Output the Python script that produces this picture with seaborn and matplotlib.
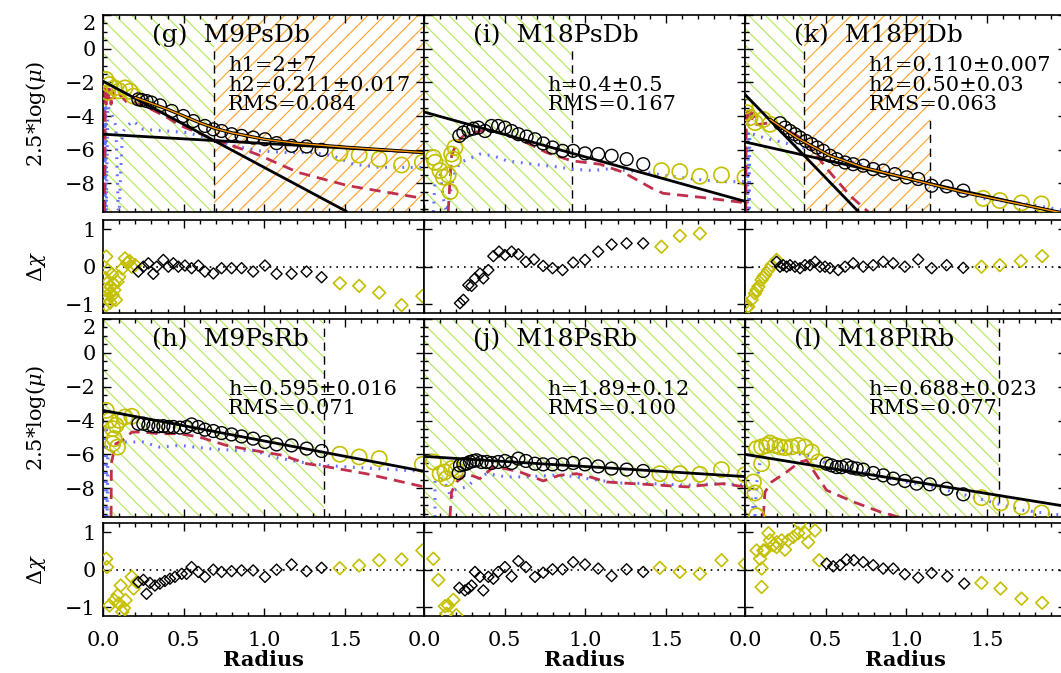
import numpy as np
import pandas as pd
import seaborn as sns
from matplotlib import pyplot as plt
from matplotlib.ticker import MultipleLocator

# ---------------- panel (g) M9PsDb ----------------
g_circ_x = [0.219, 0.24, 0.27, 0.3, 0.353, 0.426, 0.498, 0.56, 0.632, 0.684, 0.735, 0.797,
            0.859, 0.931, 1.004, 1.076, 1.169, 1.262, 1.355]
g_circ_y = [-3.01, -3.05, -3.11, -3.2, -3.37, -3.7, -4.0, -4.3, -4.59, -4.79, -4.89, -5.08,
            -5.18, -5.28, -5.38, -5.61, -5.77, -5.81, -6.01]
g_ycirc_x = [0.018, 0.03, 0.04, 0.07, 0.1, 0.136, 0.167, 0.188, 1.468, 1.588, 1.712, 1.851, 1.98]
g_ycirc_y = [-1.83, -2.6, -2.13, -2.33, -2.5, -2.33, -2.53, -2.82, -6.2, -6.32, -6.56, -6.91, -6.75]
g_fit1_x, g_fit1_y = [0.0, 1.51], [-1.93, -9.67]
g_fit2_x, g_fit2_y = [0.0, 1.99], [-5.08, -6.17]
g_sum_x = [0.2, 0.3, 0.4, 0.5, 0.6, 0.7, 0.8, 1.0, 1.2, 1.5, 1.99]
g_sum_y = [-2.9, -3.25, -3.6, -4.0, -4.4, -4.75, -5.0, -5.38, -5.62, -5.85, -6.17]
g_red_x = [0.01, 0.012, 0.015, 0.02, 0.025, 0.03, 0.04, 0.05, 0.06, 0.07, 0.1, 0.15, 0.2,
           0.3, 0.4, 0.477, 0.684, 0.952, 1.21, 1.52, 1.99]
g_red_y = [-9.7, -5.0, -2.2, -3.3, -2.3, -3.2, -2.4, -3.3, -2.5, -3.0, -2.7, -3.2, -3.2,
           -3.6, -4.1, -4.55, -5.38, -6.26, -7.35, -8.14, -8.9]
g_blue_x = [0.008, 0.01, 0.013, 0.016, 0.02, 0.03, 0.055, 0.08, 0.095, 0.1, 0.12, 0.145,
            0.188, 0.25, 0.394, 0.518, 0.684, 0.808, 0.973, 1.14, 1.3, 1.427, 1.55, 1.716, 1.99]
g_blue_y = [-9.7, -3.6, -9.7, -3.5, -9.7, -3.4, -3.9, -4.6, -9.7, -9.7, -5.0, -4.6,
            -4.3, -4.79, -4.89, -4.98, -5.38, -5.77, -6.07, -6.17, -6.17, -6.36, -6.86, -7.05, -7.05]
g_res_x = [0.219, 0.25, 0.281, 0.312, 0.333, 0.374, 0.405, 0.436, 0.467, 0.508, 0.549, 0.591,
           0.632, 0.684, 0.735, 0.797, 0.859, 0.931, 1.004, 1.076, 1.169, 1.262, 1.355]
g_res_y = [-0.13, 0.0, 0.09, -0.19, 0.0, 0.18, 0.0, 0.09, 0.0, 0.03, -0.04, 0.03,
           -0.13, -0.18, -0.04, -0.04, -0.04, -0.13, 0.03, -0.19, -0.19, -0.13, -0.28]
g_yres_x = [0.02, 0.03, 0.025, 0.04, 0.02, 0.07, 0.1, 0.08, 0.136, 0.178, 0.2, 0.05, 0.09,
            0.015, 0.035, 0.055, 0.06, 0.045, 0.03, 0.065, 0.15, 0.165, 0.12,
            1.468, 1.588, 1.712, 1.851, 1.98]
g_yres_y = [0.27, -0.09, -0.44, -0.71, -1.02, -0.62, -0.27, -0.88, 0.22, 0.0, 0.04, -0.53, -0.4,
            -0.3, -0.6, -0.2, -0.75, -0.95, -0.85, -0.45, 0.1, 0.15, -0.05,
            -0.44, -0.51, -0.69, -1.02, -0.78]

# ---------------- panel (i) M18PsDb ----------------
i_circ_x = [0.219, 0.244, 0.275, 0.306, 0.337, 0.378, 0.419, 0.46, 0.502, 0.543, 0.585, 0.636,
            0.688, 0.739, 0.797, 0.859, 0.925, 0.998, 1.08, 1.163, 1.256, 1.359]
i_circ_y = [-5.18, -4.98, -4.83, -4.75, -4.69, -4.89, -4.59, -4.59, -4.69, -4.89, -5.08, -5.22,
            -5.38, -5.63, -5.87, -6.07, -6.07, -6.22, -6.26, -6.36, -6.56, -6.86]
i_ycirc_x = [0.058, 0.068, 0.099, 0.12, 0.15, 0.161, 0.171, 0.182, 0.192, 1.472, 1.586, 1.71, 1.844, 1.99]
i_ycirc_y = [-6.46, -6.75, -7.24, -7.63, -7.5, -8.49, -6.26, -6.56, -5.87, -7.24, -7.3, -7.58, -7.5, -7.64]
i_fit_x, i_fit_y = [0.0, 1.99], [-3.76, -9.07]
i_red_x = [0.15, 0.16, 0.171, 0.202, 0.244, 0.347, 0.43, 0.594, 0.76, 0.915, 1.09, 1.235,
           1.42, 1.483, 1.71, 1.99]
i_red_y = [-9.7, -8.0, -6.36, -5.58, -5.18, -4.89, -4.89, -5.38, -6.17, -6.66, -6.86, -7.34,
           -8.33, -8.59, -8.82, -9.15]
i_blue_x = [0.058, 0.068, 0.099, 0.12, 0.14, 0.171, 0.192, 0.223, 0.275, 0.347, 0.43, 0.512,
            0.594, 0.719, 0.801, 0.915, 1.049, 1.132, 1.256, 1.38, 1.503, 1.669, 1.834, 1.99]
i_blue_y = [-9.7, -7.74, -7.35, -8.92, -9.7, -8.14, -7.35, -6.76, -6.56, -6.26, -6.36, -6.66,
            -6.76, -6.91, -6.99, -7.15, -7.24, -7.15, -7.24, -7.35, -7.55, -7.74, -7.9, -7.9]
i_res_x = [0.223, 0.244, 0.275, 0.295, 0.316, 0.347, 0.368, 0.399, 0.43, 0.465, 0.502, 0.543,
           0.585, 0.632, 0.682, 0.739, 0.797, 0.859, 0.925, 0.998, 1.08, 1.163, 1.256, 1.359]
i_res_y = [-0.97, -0.88, -0.49, -0.51, -0.31, -0.18, -0.31, -0.09, 0.28, 0.4, 0.31, 0.4,
           0.33, 0.13, 0.19, 0.02, -0.04, -0.09, 0.11, 0.18, 0.4, 0.59, 0.62, 0.62]
i_yres_x = [1.472, 1.586, 1.71]
i_yres_y = [0.53, 0.82, 0.88]

# ---------------- panel (k) M18PlDb ----------------
k_circ_x = [0.217, 0.248, 0.279, 0.31, 0.341, 0.378, 0.413, 0.448, 0.485, 0.527, 0.568, 0.62,
            0.671, 0.733, 0.795, 0.857, 0.929, 1.002, 1.074, 1.157, 1.25, 1.353]
k_circ_y = [-4.43, -4.69, -4.89, -5.08, -5.28, -5.48, -5.67, -5.87, -6.07, -6.36, -6.56, -6.76,
            -6.86, -6.95, -7.15, -7.24, -7.45, -7.64, -7.74, -8.14, -8.18, -8.43]
k_ycirc_x = [0.0, 0.01, 0.031, 0.062, 0.114, 0.155, 1.476, 1.58, 1.714, 1.838]
k_ycirc_y = [-3.41, -3.8, -4.1, -4.39, -4.2, -4.49, -8.89, -9.02, -9.16, -9.22]
k_fit1_x, k_fit1_y = [0.0, 0.702], [-2.72, -9.67]
k_fit2_x, k_fit2_y = [0.0, 1.99], [-5.54, -9.82]
k_sum_x = [0.155, 0.32, 0.527, 0.733, 1.064, 1.353, 1.99]
k_sum_y = [-4.2, -5.28, -6.36, -7.05, -7.84, -8.53, -9.8]
k_red_x = [0.005, 0.008, 0.01, 0.02, 0.031, 0.045, 0.052, 0.07, 0.093, 0.155, 0.217, 0.361,
           0.527, 0.651, 0.765]
k_red_y = [-9.7, -4.0, -3.5, -4.3, -3.7, -4.4, -3.8, -4.5, -4.49, -4.39, -4.59, -5.38,
           -7.35, -8.73, -9.7]
k_blue_x = [0.015, 0.02, 0.025, 0.03, 0.06, 0.093, 0.155, 0.32, 0.527, 0.8, 1.146, 1.476, 1.745, 1.99]
k_blue_y = [-9.7, -4.98, -9.7, -5.1, -5.1, -5.22, -5.38, -5.77, -6.36, -7.1, -8.14, -8.89, -9.22, -9.62]
k_res_x = [0.196, 0.217, 0.237, 0.258, 0.279, 0.31, 0.341, 0.372, 0.403, 0.434, 0.465, 0.496,
           0.527, 0.578, 0.62, 0.671, 0.733, 0.795, 0.857, 0.919, 0.991, 1.074, 1.157, 1.25, 1.353]
k_res_y = [0.13, 0.0, 0.04, 0.0, 0.04, 0.0, -0.04, 0.04, 0.04, 0.13, 0.0, 0.0,
           -0.04, -0.09, 0.0, 0.09, 0.0, 0.04, 0.13, 0.09, 0.0, 0.19, -0.04, 0.04, -0.03]
k_yres_x = [0.0, 0.01, 0.02, 0.041, 0.062, 0.072, 0.083, 0.103, 0.114, 0.124, 0.145, 0.165, 0.196,
            1.466, 1.58, 1.71, 1.842]
k_yres_y = [-0.97, -1.1, -1.06, -0.88, -0.71, -0.62, -0.53, -0.35, -0.27, -0.22, -0.09, 0.04, 0.18,
            0.0, 0.04, 0.15, 0.28]

# ---------------- panel (h) M9PsRb ----------------
h_circ_x = [0.219, 0.25, 0.281, 0.312, 0.343, 0.374, 0.405, 0.436, 0.477, 0.518, 0.549, 0.591,
            0.632, 0.684, 0.735, 0.797, 0.859, 0.931, 1.004, 1.076, 1.169, 1.262, 1.355]
h_circ_y = [-4.19, -4.19, -4.28, -4.33, -4.34, -4.33, -4.38, -4.38, -4.42, -4.38, -4.23, -4.38,
            -4.54, -4.62, -4.74, -4.82, -4.94, -5.07, -5.27, -5.41, -5.47, -5.66, -5.8]
h_ycirc_x = [0.02, 0.04, 0.06, 0.06, 0.07, 0.08, 0.09, 0.1, 0.136, 0.178, 1.468, 1.588, 1.712, 1.98]
h_ycirc_y = [-3.4, -3.99, -4.48, -5.37, -5.07, -4.28, -5.57, -3.99, -3.79, -3.75, -5.99, -6.15, -6.25, -6.59]
h_fit_x, h_fit_y = [0.0, 1.99], [-3.4, -7.0]
h_red_x = [0.05, 0.052, 0.06, 0.08, 0.12, 0.18, 0.25, 0.35, 0.477, 0.6, 0.765, 0.931, 1.117,
           1.262, 1.375, 1.63, 1.99]
h_red_y = [-9.7, -6.5, -6.16, -5.37, -5.17, -4.68, -4.68, -4.78, -4.78, -4.98, -5.47, -5.76, -6.06,
           -6.55, -6.71, -7.14, -7.92]
h_blue_x = [0.013, 0.018, 0.025, 0.03, 0.05, 0.1, 0.14, 0.25, 0.35, 0.477, 0.652, 0.818, 0.931,
            1.055, 1.221, 1.375, 1.53, 1.99]
h_blue_y = [-9.7, -4.33, -9.7, -6.16, -5.86, -5.37, -5.27, -5.27, -5.57, -5.47, -5.66, -5.76, -5.76,
            -6.16, -6.45, -6.65, -6.75, -7.0]
h_res_x = [0.219, 0.25, 0.27, 0.291, 0.322, 0.353, 0.384, 0.415, 0.446, 0.488, 0.518, 0.549,
           0.591, 0.632, 0.684, 0.735, 0.797, 0.859, 0.931, 1.004, 1.076, 1.169, 1.262, 1.355]
h_res_y = [-0.33, -0.27, -0.64, -0.35, -0.42, -0.37, -0.3, -0.24, -0.19, -0.11, -0.11, 0.07,
           -0.06, -0.19, 0.0, -0.06, -0.04, -0.02, -0.02, -0.19, 0.0, 0.14, -0.04, 0.05]
h_yres_x = [0.02, 0.025, 0.04, 0.07, 0.09, 0.1, 0.11, 0.12, 0.13, 0.14, 0.178, 0.19, 0.21,
            1.468, 1.588, 1.712, 1.851, 1.98]
h_yres_y = [0.29, 0.07, -0.95, -0.81, -0.68, -0.9, -0.42, -1.12, -1.02, -0.81, -0.19, -0.5, -0.33,
            0.04, 0.11, 0.25, 0.27, 0.51]

# ---------------- panel (j) M18PsRb ----------------
j_circ_x = [0.215, 0.223, 0.244, 0.264, 0.285, 0.306, 0.326, 0.357, 0.388, 0.419, 0.46, 0.502,
            0.543, 0.585, 0.632, 0.688, 0.739, 0.797, 0.859, 0.925, 0.998, 1.08, 1.163, 1.256, 1.359]
j_circ_y = [-7.1, -6.65, -6.59, -6.55, -6.45, -6.39, -6.35, -6.45, -6.45, -6.51, -6.45, -6.39,
            -6.51, -6.25, -6.39, -6.55, -6.59, -6.59, -6.59, -6.51, -6.59, -6.71, -6.84, -6.9, -6.98]
j_ycirc_x = [0.058, 0.1, 0.13, 0.14, 0.171, 0.2, 1.462, 1.586, 1.71, 1.844, 1.99]
j_ycirc_y = [-6.45, -7.14, -7.04, -7.43, -6.84, -6.9, -7.14, -7.14, -7.18, -6.9, -7.2]
j_fit_x, j_fit_y = [0.0, 1.99], [-6.12, -7.31]
j_red_x = [0.161, 0.171, 0.202, 0.264, 0.347, 0.43, 0.502, 0.594, 0.677, 0.739, 0.842, 0.946,
           1.028, 1.132, 1.297, 1.462, 1.627, 1.73, 1.855, 1.99]
j_red_y = [-9.7, -8.22, -7.63, -7.14, -7.43, -6.75, -6.84, -7.04, -7.33, -7.57, -7.23, -7.14,
           -7.33, -7.63, -7.73, -7.82, -7.92, -7.82, -7.73, -7.92]
j_blue_x = [0.068, 0.068, 0.12, 0.171, 0.182, 0.264, 0.326, 0.388, 0.512, 0.636, 0.801, 0.925,
            1.049, 1.214, 1.42, 1.627, 1.834, 1.99]
j_blue_y = [-9.7, -7.53, -7.43, -8.62, -8.12, -7.92, -7.43, -7.14, -7.33, -7.33, -7.23, -7.3,
            -7.49, -7.69, -7.73, -7.82, -7.73, -7.82]
j_res_x = [0.219, 0.254, 0.275, 0.295, 0.316, 0.347, 0.368, 0.399, 0.43, 0.46, 0.502, 0.543,
           0.585, 0.632, 0.688, 0.739, 0.797, 0.859, 0.925, 0.998, 1.08, 1.163, 1.256, 1.359]
j_res_y = [-0.48, -0.55, -0.5, -0.42, -0.06, -0.19, -0.55, -0.19, -0.24, -0.06, 0.07, -0.18,
           0.23, 0.07, -0.19, -0.08, 0.01, 0.01, 0.2, 0.14, 0.03, -0.17, 0.01, -0.06]
j_yres_x = [0.058, 0.089, 0.13, 0.15, 0.182, 0.14, 0.2, 1.462, 1.586, 1.71, 1.844, 1.99]
j_yres_y = [0.29, -0.27, -0.97, -0.95, -0.8, -1.17, -1.21, 0.05, -0.06, -0.11, 0.25, 0.16]

# ---------------- panel (l) M18PlRb ----------------
l_circ_x = [0.506, 0.537, 0.568, 0.599, 0.63, 0.661, 0.692, 0.733, 0.795, 0.857, 0.919, 0.991,
            1.064, 1.146, 1.25, 1.353]
l_circ_y = [-6.55, -6.65, -6.75, -6.75, -6.65, -6.78, -6.84, -6.9, -7.1, -7.24, -7.43, -7.57,
            -7.73, -7.77, -8.03, -8.36]
l_ycirc_x = [0.052, 0.062, 0.072, 0.072, 0.103, 0.103, 0.134, 0.155, 0.186, 0.217, 0.248, 0.289,
             0.33, 0.372, 0.413, 0.454, 1.466, 1.584, 1.714, 1.838]
l_ycirc_y = [-7.63, -8.28, -9.63, -5.66, -5.56, -6.55, -5.47, -5.33, -5.47, -5.56, -5.6, -5.56,
             -5.47, -5.56, -5.86, -6.45, -8.56, -8.87, -9.1, -9.46]
l_fit_x, l_fit_y = [0.0, 1.99], [-6.0, -9.07]
l_red_x = [0.113, 0.124, 0.165, 0.258, 0.34, 0.382, 0.444, 0.506, 0.671, 0.836, 0.98]
l_red_y = [-9.7, -8.22, -7.63, -7.04, -6.45, -6.35, -7.24, -8.12, -8.8, -9.39, -9.78]
l_blue_x = [0.0, 0.031, 0.052, 0.062, 0.072, 0.093, 0.114, 0.155, 0.237, 0.32, 0.403, 0.485,
            0.61, 0.774, 0.94, 1.105, 1.25, 1.394, 1.559, 1.714, 1.99]
l_blue_y = [-7.63, -8.22, -9.33, -9.6, -7.73, -6.45, -5.96, -5.56, -5.76, -5.96, -6.06, -6.45,
            -6.75, -7.14, -7.53, -7.82, -8.12, -8.47, -8.9, -9.29, -9.62]
l_res_x = [0.506, 0.547, 0.589, 0.63, 0.675, 0.733, 0.795, 0.857, 0.919, 0.991, 1.074, 1.157,
           1.254, 1.359]
l_res_y = [0.16, 0.09, 0.12, 0.27, 0.25, 0.2, 0.12, 0.03, 0.03, -0.12, -0.21, -0.09, -0.18, -0.37]
l_yres_x = [0.072, 0.093, 0.103, 0.124, 0.145, 0.155, 0.176, 0.196, 0.227, 0.248, 0.268, 0.299,
            0.33, 0.34, 0.372, 0.392, 0.434, 0.46, 0.103, 0.114, 0.196, 1.466, 1.584, 1.714, 1.842]
l_yres_y = [0.51, 0.29, 0.03, 0.51, 0.97, 0.78, 0.65, 0.73, 0.78, 0.53, 0.78, 0.87,
            0.97, 1.22, 0.97, 0.73, 1.04, 0.25, -0.46, 0.51, 0.6, -0.35, -0.5, -0.77, -0.88]

# shaded fit regions and boundaries (x limits), dashed boundary tops (data y)
g_green, g_orange, g_dash = (0.0, 0.688), (0.688, 1.99), [(0.688, 0.1)]
i_green, i_dash = (0.0, 0.915), [(0.915, -0.05)]
k_green, k_orange, k_dash = (0.0, 0.366), (0.366, 1.146), [(0.366, 0.0), (1.146, -4.0)]
h_green, h_dash = (0.0, 1.37), [(1.37, 2.0)]
j_green = (0.0, 1.99)
l_green, l_dash = (0.0, 1.574), [(1.574, 2.0)]

g_text = ["h1=2\u00b17", "h2=0.211\u00b10.017", "RMS=0.084"]
i_text = ["h=0.4\u00b10.5", "RMS=0.167"]
k_text = ["h1=0.110\u00b10.007", "h2=0.50\u00b10.03", "RMS=0.063"]
h_text = ["h=0.595\u00b10.016", "RMS=0.071"]
j_text = ["h=1.89\u00b10.12", "RMS=0.100"]
l_text = ["h=0.688\u00b10.023", "RMS=0.077"]

YELLOW = "#c4c000"
RED = "#c0304c"
BLUE = "#6470ff"
GREEN_H = "#b2e65a"
ORANGE_H = "#ffa024"
ORANGE_L = "#ff9a00"
INK = "black"

sns.set_style("ticks")
plt.rcParams["font.family"] = ["DejaVu Serif"]
plt.rcParams["mathtext.fontset"] = "dejavuserif"
plt.rcParams["hatch.linewidth"] = 0.8
plt.rcParams["axes.linewidth"] = 1.2

W, H = 1061, 673
COL_LEFT = [103, 424, 745]
COL_W = 321
ROWS = [((15, 212), (220, 313)), ((319, 517), (523, 616))]


def rect(left, top, bottom):
    return [left / W, 1 - bottom / H, COL_W / W, (bottom - top) / H]


def draw_points(ax, x, y, color, marker, size, lw=1.0):
    sns.scatterplot(x=x, y=y, ax=ax, marker=marker, s=size, facecolor="none",
                    edgecolor=color, linewidth=lw, zorder=4)


def draw_line(ax, x, y, color, lw, ls="-", z=3):
    sns.lineplot(x=x, y=y, ax=ax, sort=False, estimator=None, color=color,
                 linewidth=lw, linestyle=ls, zorder=z)


panels = [
    dict(row=0, col=0, title="(g)  M9PsDb", circ=(g_circ_x, g_circ_y), ycirc=(g_ycirc_x, g_ycirc_y),
         fits=[(g_fit1_x, g_fit1_y), (g_fit2_x, g_fit2_y)], total=(g_sum_x, g_sum_y),
         red=(g_red_x, g_red_y), blue=(g_blue_x, g_blue_y), res=(g_res_x, g_res_y),
         yres=(g_yres_x, g_yres_y), green=g_green, orange=g_orange, dash=g_dash, text=g_text),
    dict(row=0, col=1, title="(i)  M18PsDb", circ=(i_circ_x, i_circ_y), ycirc=(i_ycirc_x, i_ycirc_y),
         fits=[(i_fit_x, i_fit_y)], total=None,
         red=(i_red_x, i_red_y), blue=(i_blue_x, i_blue_y), res=(i_res_x, i_res_y),
         yres=(i_yres_x, i_yres_y), green=i_green, orange=None, dash=i_dash, text=i_text),
    dict(row=0, col=2, title="(k)  M18PlDb", circ=(k_circ_x, k_circ_y), ycirc=(k_ycirc_x, k_ycirc_y),
         fits=[(k_fit1_x, k_fit1_y), (k_fit2_x, k_fit2_y)], total=(k_sum_x, k_sum_y),
         red=(k_red_x, k_red_y), blue=(k_blue_x, k_blue_y), res=(k_res_x, k_res_y),
         yres=(k_yres_x, k_yres_y), green=k_green, orange=k_orange, dash=k_dash, text=k_text),
    dict(row=1, col=0, title="(h)  M9PsRb", circ=(h_circ_x, h_circ_y), ycirc=(h_ycirc_x, h_ycirc_y),
         fits=[(h_fit_x, h_fit_y)], total=None,
         red=(h_red_x, h_red_y), blue=(h_blue_x, h_blue_y), res=(h_res_x, h_res_y),
         yres=(h_yres_x, h_yres_y), green=h_green, orange=None, dash=h_dash, text=h_text),
    dict(row=1, col=1, title="(j)  M18PsRb", circ=(j_circ_x, j_circ_y), ycirc=(j_ycirc_x, j_ycirc_y),
         fits=[(j_fit_x, j_fit_y)], total=None,
         red=(j_red_x, j_red_y), blue=(j_blue_x, j_blue_y), res=(j_res_x, j_res_y),
         yres=(j_yres_x, j_yres_y), green=j_green, orange=None, dash=[], text=j_text),
    dict(row=1, col=2, title="(l)  M18PlRb", circ=(l_circ_x, l_circ_y), ycirc=(l_ycirc_x, l_ycirc_y),
         fits=[(l_fit_x, l_fit_y)], total=None,
         red=(l_red_x, l_red_y), blue=(l_blue_x, l_blue_y), res=(l_res_x, l_res_y),
         yres=(l_yres_x, l_yres_y), green=l_green, orange=None, dash=l_dash, text=l_text),
]

fig = plt.figure(figsize=(W / 100, H / 100), dpi=100, facecolor="white")

TXT_ROWS = [0.746, 0.643, 0.546]

for p in panels:
    (mt, mb), (rt, rb) = ROWS[p["row"]]
    left = COL_LEFT[p["col"]]
    ax = fig.add_axes(rect(left, mt, mb))
    rax = fig.add_axes(rect(left, rt, rb))

    # hatched fitting regions
    ax.axvspan(*p["green"], facecolor="none", edgecolor=GREEN_H, hatch="\\\\", linewidth=0, zorder=0)
    if p["orange"] is not None:
        ax.axvspan(*p["orange"], facecolor="none", edgecolor=ORANGE_H, hatch="//", linewidth=0, zorder=0)
    for xd, ytop in p["dash"]:
        ax.plot([xd, xd], [-9.7, ytop], color=INK, lw=1.0, ls=(0, (6, 4)), zorder=2)

    draw_line(ax, *p["blue"], BLUE, 2.2, (0, (0.6, 2.2)), z=2)
    draw_line(ax, *p["red"], RED, 2.0, (0, (4, 2.5)), z=2)
    draw_points(ax, *p["ycirc"], YELLOW, "o", 120, 1.2)
    draw_points(ax, *p["circ"], INK, "o", 85, 1.0)
    for fx, fy in p["fits"]:
        draw_line(ax, fx, fy, INK, 2.0, z=5)
    if p["total"] is not None:
        draw_line(ax, *p["total"], INK, 2.4, z=5)
        draw_line(ax, *p["total"], ORANGE_L, 1.0, z=6)

    ax.text(0.152, 0.897, p["title"], transform=ax.transAxes, fontsize=18, va="center",
            color=INK, zorder=7)
    rows = TXT_ROWS if len(p["text"]) == 3 else TXT_ROWS[1:]
    tx = 0.39 if p["col"] == 0 else 0.385
    for line, ty in zip(p["text"], rows):
        ax.text(tx, ty, line, transform=ax.transAxes, fontsize=15, va="center", color=INK, zorder=7)

    # residual panel
    rax.axhline(0, color=INK, lw=1.2, ls=(0, (1, 3)), zorder=1)
    draw_points(rax, *p["yres"], YELLOW, "D", 42, 1.2)
    draw_points(rax, *p["res"], INK, "D", 32, 1.0)

    ax.set_xlim(0, 1.99)
    ax.set_ylim(-9.7, 2.0)
    rax.set_xlim(0, 1.99)
    rax.set_ylim(-1.23, 1.24)
    ax.yaxis.set_major_locator(MultipleLocator(2))
    ax.yaxis.set_minor_locator(MultipleLocator(0.5))
    rax.yaxis.set_major_locator(MultipleLocator(1))
    for a in (ax, rax):
        a.xaxis.set_major_locator(MultipleLocator(0.5))
        a.xaxis.set_minor_locator(MultipleLocator(0.1))
        a.tick_params(which="both", direction="in", top=True, right=True, width=1.0,
                      labelsize=15, colors=INK, labelcolor=INK)
        a.tick_params(which="major", length=6)
        a.tick_params(which="minor", length=3)
        a.tick_params(axis="x", pad=11)
        a.tick_params(axis="y", pad=5)
        a.set_xlabel("")
        a.set_ylabel("")
        a.set_facecolor("white")
        for s in a.spines.values():
            s.set_color(INK)
    ax.tick_params(labelbottom=False)
    if p["row"] == 0:
        rax.tick_params(labelbottom=False)
    if p["col"] != 0:
        ax.tick_params(labelleft=False)
        rax.tick_params(labelleft=False)
    else:
        # the top label "2" sits just under the frame edge
        locs = list(ax.yaxis.get_majorticklocs())
        ticks = ax.yaxis.get_major_ticks(len(locs))
        for t, v in zip(ticks, locs):
            if abs(v - 2.0) < 1e-6:
                t.label1.set_verticalalignment("top")

for r, ((mt, mb), (rt, rb)) in enumerate(ROWS):
    fig.text(36 / W, 1 - (mt + mb) / 2 / H, "2.5*log($\\mu$)", rotation=90, ha="center",
             va="center", fontsize=15, color=INK)
    fig.text(37 / W, 1 - (rt + rb) / 2 / H, "$\\Delta\\chi$", rotation=90, ha="center",
             va="center", fontsize=15, color=INK)
for left in COL_LEFT:
    fig.text((left + COL_W / 2) / W, 1 - 660 / H, "Radius", ha="center", va="center",
             fontsize=15, fontweight="bold", color=INK)

fig.savefig("out.png", dpi=100, facecolor="white")
